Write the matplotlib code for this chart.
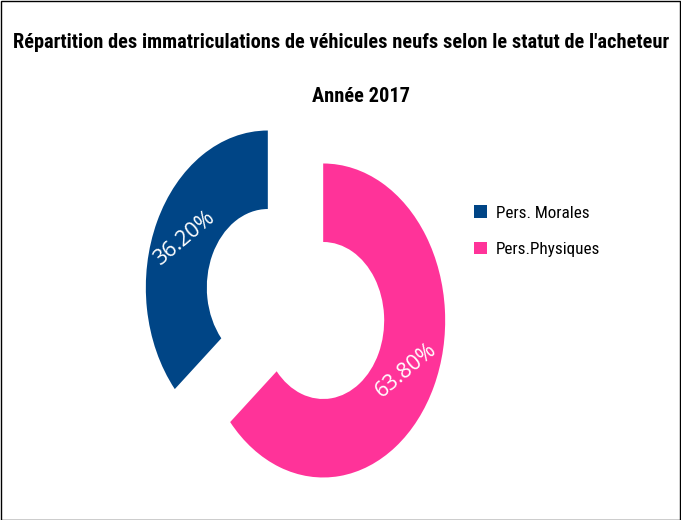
import matplotlib
matplotlib.use("Agg")
import matplotlib.pyplot as plt
from matplotlib.patches import Rectangle
import numpy as np

title = "Répartition des immatriculations de véhicules neufs selon le statut de l'acheteur"
subtitle = "Année 2017"
categories = ["Pers. Morales", "Pers.Physiques"]
values = [36.20, 63.80]
colors = ["#004586", "#ff3399"]
label_texts = ["36.20%", "63.80%"]

W, H = 681, 520
fig = plt.figure(figsize=(W / 100, H / 100), dpi=100)
fam = ['Roboto Condensed', 'Liberation Sans', 'DejaVu Sans']

# border
fig.patches.append(Rectangle((0.5 / W, 0.5 / H), 1 - 1.5 / W, 1 - 1.5 / H, transform=fig.transFigure,
                             fill=False, edgecolor='black', linewidth=1))

fig.text(341 / W, 1 - 43 / H, title, ha='center', va='center', fontsize=14.7, fontweight='bold', family=fam)
fig.text(361 / W, 1 - 96 / H, subtitle, ha='center', va='center', fontsize=14.7, fontweight='bold', family=fam)

cx, cy = 295.5, 304.0
rx, ry = 122.0, 157.0
xl, yl = 1.5, 1.3
axw, axh = 2 * xl * rx, 2 * yl * ry
ax = fig.add_axes([(cx - axw / 2) / W, (H - cy - axh / 2) / H, axw / W, axh / H])
wedges, _ = ax.pie(values, colors=colors, startangle=90, counterclock=True, radius=1,
                   explode=[0.25, 0.25], wedgeprops=dict(width=0.5, linewidth=0))
ax.set_aspect('auto')
ax.set_xlim(-xl, xl)
ax.set_ylim(-yl, yl)
ax.axis('off')
for w in wedges:
    w.set_clip_on(False)

for w, t in zip(wedges, label_texts):
    mid = np.deg2rad((w.theta1 + w.theta2) / 2)
    ox, oy = w.center
    ax.text(ox + 0.75 * np.cos(mid), oy + 0.75 * np.sin(mid), t, color='white', fontsize=15.5,
            rotation=40, ha='center', va='center', rotation_mode='anchor',
            family=['Open Sans', 'DejaVu Sans'])

leg = fig.legend(wedges, categories, loc='upper left', bbox_to_anchor=(471 / W, 1 - 202 / H),
                 frameon=False, handlelength=0.75, handleheight=0.75, handletextpad=0.5,
                 labelspacing=1.25, borderaxespad=0, borderpad=0.2, prop={'family': fam, 'size': 12.3})

fig.savefig("out.png", dpi=100)
